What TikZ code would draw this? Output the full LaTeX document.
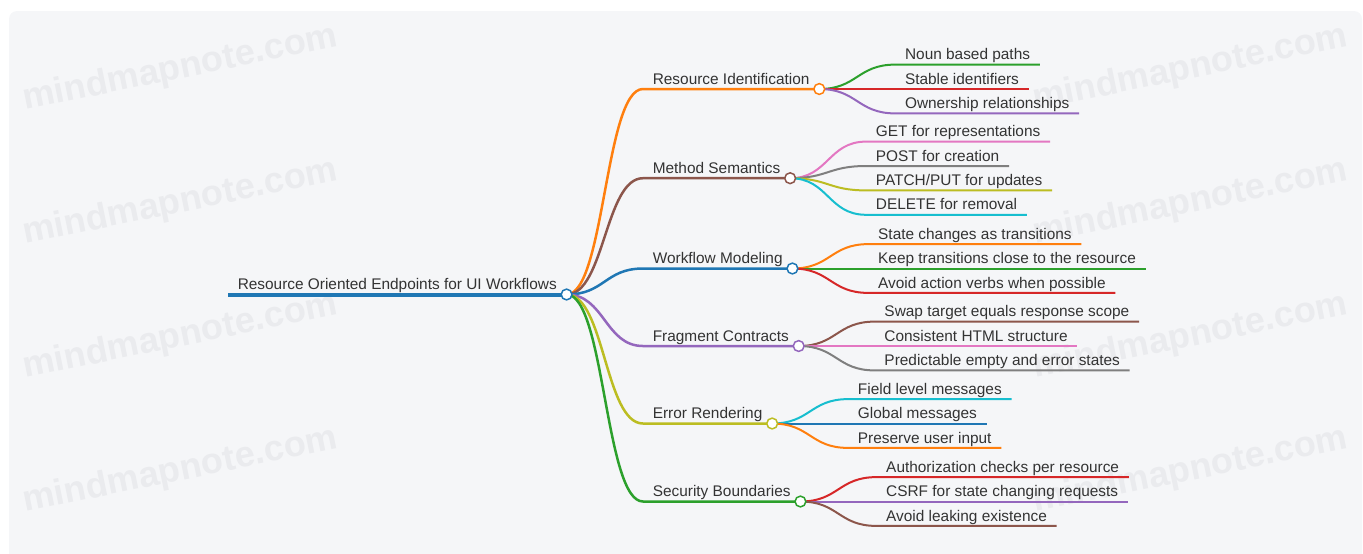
\documentclass[tikz,border=0pt]{standalone}
\usepackage{fontspec}
\setmainfont{Liberation Sans}
\usetikzlibrary{positioning,calc}
\definecolor{Paper}{HTML}{F5F6F8}
\definecolor{Stamp}{HTML}{EAEBEE}
\definecolor{Ink}{HTML}{333333}
\definecolor{Blue}{HTML}{1F77B4}
\definecolor{Orange}{HTML}{FF7F0E}
\definecolor{Green}{HTML}{2CA02C}
\definecolor{Red}{HTML}{D62728}
\definecolor{Purple}{HTML}{9467BD}
\definecolor{Brown}{HTML}{8C564B}
\definecolor{Pink}{HTML}{E377C2}
\definecolor{Gray}{HTML}{7F7F7F}
\definecolor{Olive}{HTML}{BCBD22}
\definecolor{Cyan}{HTML}{17BECF}
\tikzset{
  topic/.style={anchor=south west, inner xsep=4.7pt, inner ysep=2.25pt, text depth=0pt, text=Ink, font=\fontsize{7.7pt}{9pt}\selectfont},
  stem/.style={line width=2pt},
  bough/.style={line width=1.25pt},
  twig/.style={line width=1pt},
  knob/.style={circle, fill=white, line width=.75pt, minimum size=5.4pt, inner sep=0pt},
  stamp/.style={anchor=base west, rotate=11.5, inner sep=0pt, text=Stamp, font=\bfseries\fontsize{18pt}{18pt}\selectfont}
}
\begin{document}
\begin{tikzpicture}[x=0.5pt,y=-0.5pt]
\useasboundingbox (0,0) rectangle (1363,553);
\clip (0,0) rectangle (1363,553);
\fill[Paper, rounded corners=4pt] (9,11) rectangle (1362,575);
% watermark grid
\foreach \wx in {25,1035}
  \foreach \wy in {110,244,378,512}
    \node[stamp] (mark-\wx-\wy) at (\wx,\wy) {mindmapnote.com};

% root
\node[topic] (root) at (228,294.5) {Resource Oriented Endpoints for UI Workflows};
\draw[stem, Blue] (root.south west) -- (root.south east);

% main branches
\foreach \b/\y/\col/\lbl in {ri/89/Orange/{Resource Identification},
    ms/178.2/Brown/{Method Semantics},
    wm/268.5/Blue/{Workflow Modeling},
    fc/346/Purple/{Fragment Contracts},
    er/423.5/Olive/{Error Rendering},
    sb/501.5/Green/{Security Boundaries}} {
  \node[topic] (\b) at (643,\y) {\lbl};
  \draw[bough, \col] (root.south east) .. controls +(38,0) and +(-38,0) .. (\b.south west) -- (\b.south east);
}

% leaves
\foreach \p/\n/\dy/\col/\lbl in {ri/ri1/-24.4/Green/{Noun based paths},
    ri/ri2/0/Red/{Stable identifiers},
    ri/ri3/24.4/Purple/{Ownership relationships},
    ms/ms1/-36.6/Pink/{GET for representations},
    ms/ms2/-12.2/Gray/{POST for creation},
    ms/ms3/12.2/Olive/{PATCH/PUT for updates},
    ms/ms4/36.6/Cyan/{DELETE for removal},
    wm/wm1/-24.4/Orange/{State changes as transitions},
    wm/wm2/0/Green/{Keep transitions close to the resource},
    wm/wm3/24.4/Red/{Avoid action verbs when possible},
    fc/fc1/-24.4/Brown/{Swap target equals response scope},
    fc/fc2/0/Pink/{Consistent HTML structure},
    fc/fc3/24.4/Gray/{Predictable empty and error states},
    er/er1/-24.4/Cyan/{Field level messages},
    er/er2/0/Blue/{Global messages},
    er/er3/24.4/Orange/{Preserve user input},
    sb/sb1/-24.4/Red/{Authorization checks per resource},
    sb/sb2/0/Purple/{CSRF for state changing requests},
    sb/sb3/24.4/Brown/{Avoid leaking existence}} {
  \node[topic] (\n) at ($(\p.south east)+(76,\dy)$) {\lbl};
  \draw[twig, \col] (\p.south east) .. controls +(38,0) and +(-38,0) .. (\n.south west) -- (\n.south east);
}

% joints on top
\foreach \k/\col in {root/Blue, ri/Orange, ms/Brown, wm/Blue, fc/Purple, er/Olive, sb/Green}
  \node[knob, draw=\col] (\k-dot) at (\k.south east) {};
\end{tikzpicture}
\end{document}
